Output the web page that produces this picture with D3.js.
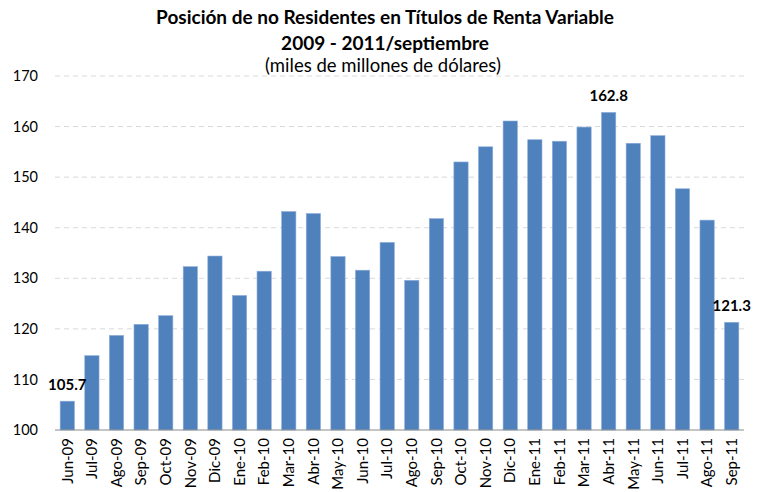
<!DOCTYPE html>
<html lang="es">
<head>
<meta charset="UTF-8">
<script src="https://cdn.jsdelivr.net/npm/d3@7"></script>
<title>Posición de no Residentes</title>
<style>
  body { margin: 0; background: #fff; }
  svg text { font-family: Lato, "Open Sans", sans-serif; fill: #000; }
  .grid line { stroke: #d9d9d9; stroke-dasharray: 5 4; }
</style>
</head>
<body>
<script>
  const months = ["Jun-09","Jul-09","Ago-09","Sep-09","Oct-09","Nov-09","Dic-09","Ene-10",
    "Feb-10","Mar-10","Abr-10","May-10","Jun-10","Jul-10","Ago-10","Sep-10","Oct-10",
    "Nov-10","Dic-10","Ene-11","Feb-11","Mar-11","Abr-11","May-11","Jun-11","Jul-11",
    "Ago-11","Sep-11"];
  const values = [105.7,114.7,118.7,120.9,122.6,132.3,134.4,126.6,131.4,143.2,142.8,134.3,
    131.6,137.1,129.6,141.8,153.0,156.0,161.1,157.4,157.1,159.9,162.8,156.7,158.2,147.7,
    141.5,121.3];
  const yTicks = [100,110,120,130,140,150,160,170];
  const labelled = ["Jun-09","Abr-11","Sep-11"];

  const W = 757, H = 492;
  const mLeft = 55, mRight = 744, mTop = 76, mBottom = 430;

  const svg = d3.select("body").append("svg").attr("width", W).attr("height", H);

  const x = d3.scaleBand().domain(months).range([mLeft, mRight]).paddingInner(0.42).paddingOuter(0.21);
  const y = d3.scaleLinear().domain([100, 170]).range([mBottom, mTop]);

  // grid
  svg.append("g").attr("class", "grid")
    .selectAll("line").data(yTicks.slice(1)).enter().append("line")
    .attr("x1", mLeft).attr("x2", mRight)
    .attr("y1", d => y(d)).attr("y2", d => y(d));

  // y labels
  svg.append("g").selectAll("text").data(yTicks).enter().append("text")
    .attr("x", 38).attr("y", d => y(d)).attr("dy", "0.35em")
    .attr("text-anchor", "end").style("font-size", "14.5px")
    .text(d => d);

  // bars
  svg.append("g").selectAll("rect").data(values).enter().append("rect")
    .attr("x", (d, i) => x(months[i]))
    .attr("width", x.bandwidth())
    .attr("y", d => y(d))
    .attr("height", d => y(100) - y(d))
    .attr("fill", "#4f81bd")
    .attr("stroke", "#8eaedb").attr("stroke-width", 0.6);

  // baseline
  svg.append("line").attr("x1", mLeft).attr("x2", mRight)
    .attr("y1", mBottom).attr("y2", mBottom)
    .attr("stroke", "#8c8c8c").attr("stroke-width", 1.2);

  // x labels
  svg.append("g").selectAll("text").data(months).enter().append("text")
    .attr("transform", d => "translate(" + (x(d) + x.bandwidth() / 2) + "," + (mBottom + 8) + ") rotate(-90)")
    .attr("dy", "0.35em")
    .attr("text-anchor", "end").style("font-size", "15px")
    .text(d => d);

  // value labels
  svg.append("g").selectAll("text").data(months.filter(m => labelled.includes(m))).enter().append("text")
    .attr("x", m => x(m) + x.bandwidth() / 2)
    .attr("y", m => y(values[months.indexOf(m)]) - 11)
    .attr("text-anchor", "middle")
    .style("font-size", "15px").style("font-weight", "bold")
    .text(m => values[months.indexOf(m)].toFixed(1));

  // titles
  svg.append("text").attr("x", 385).attr("y", 24).attr("text-anchor", "middle")
    .style("font-size", "19px").style("font-weight", "bold")
    .text("Posición de no Residentes en Títulos de Renta Variable");
  svg.append("text").attr("x", 385).attr("y", 50).attr("text-anchor", "middle")
    .style("font-size", "19px").style("font-weight", "bold")
    .text("2009 - 2011/septiembre");
  svg.append("text").attr("x", 383).attr("y", 72).attr("text-anchor", "middle")
    .style("font-size", "18.5px")
    .text("(miles de millones de dólares)");
</script>
</body>
</html>
